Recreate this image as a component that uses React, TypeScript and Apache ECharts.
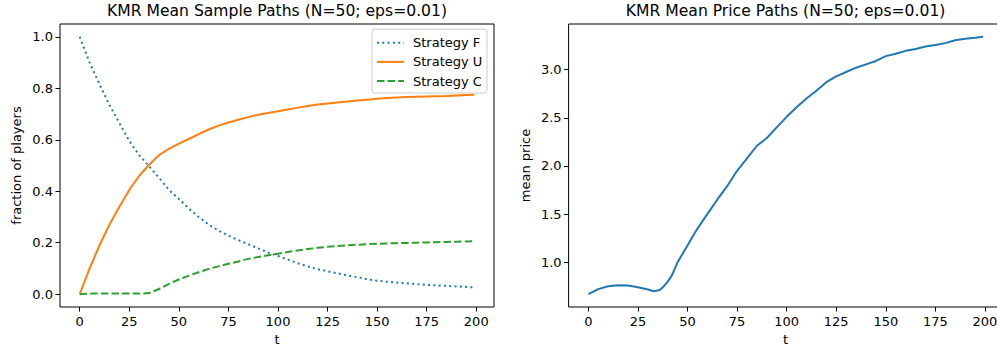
import React, { useEffect, useRef } from "react";
import * as echarts from "echarts";

const FONT = '"DejaVu Sans", sans-serif';

// time steps for the strategy shares
const tSteps = [0, 5, 10, 15, 20, 25, 30, 35, 40, 45, 50, 55, 60, 65, 70, 75, 80, 85, 90, 95, 100,
  105, 110, 115, 120, 125, 130, 135, 140, 145, 150, 155, 160, 165, 170, 175, 180, 185, 190, 195, 199];

const strategyF = [1.0, 0.9, 0.815, 0.735, 0.665, 0.595, 0.54, 0.497, 0.452, 0.405, 0.37, 0.333, 0.30, 0.27,
  0.247, 0.227, 0.21, 0.194, 0.178, 0.162, 0.148, 0.134, 0.12, 0.108, 0.097, 0.089, 0.081, 0.073, 0.066,
  0.058, 0.052, 0.048, 0.045, 0.042, 0.039, 0.036, 0.034, 0.032, 0.030, 0.028, 0.026];

const strategyU = [0, 0.1, 0.19, 0.27, 0.34, 0.405, 0.46, 0.503, 0.54, 0.565, 0.585, 0.603, 0.622, 0.64,
  0.655, 0.667, 0.678, 0.688, 0.697, 0.704, 0.711, 0.718, 0.725, 0.731, 0.737, 0.741, 0.745, 0.749, 0.753,
  0.756, 0.759, 0.762, 0.764, 0.766, 0.767, 0.768, 0.769, 0.770, 0.772, 0.774, 0.775];

const strategyC = [0, 0.002, 0.002, 0.002, 0.002, 0.002, 0.002, 0.004, 0.02, 0.04, 0.057, 0.072, 0.085, 0.098,
  0.108, 0.118, 0.127, 0.137, 0.144, 0.151, 0.157, 0.164, 0.17, 0.175, 0.18, 0.184, 0.187, 0.19, 0.192,
  0.194, 0.196, 0.197, 0.198, 0.199, 0.200, 0.201, 0.202, 0.203, 0.204, 0.205, 0.206];

// time steps for the mean price
const priceT = [0, 5, 10, 15, 20, 25, 30, 33, 36, 38, 40, 42, 45, 50, 55, 60, 65, 70, 75, 80, 85, 90, 95, 100,
  105, 110, 115, 120, 125, 130, 135, 140, 145, 150, 155, 160, 165, 170, 175, 180, 185, 190, 195, 199];

const meanPrice = [0.671, 0.722, 0.752, 0.763, 0.76, 0.742, 0.718, 0.70, 0.712, 0.75, 0.80, 0.86, 1.0, 1.175,
  1.35, 1.5, 1.65, 1.79, 1.95, 2.08, 2.21, 2.29, 2.4, 2.51, 2.61, 2.7, 2.78, 2.87, 2.93, 2.975, 3.02, 3.055,
  3.09, 3.14, 3.165, 3.195, 3.215, 3.24, 3.255, 3.275, 3.305, 3.32, 3.33, 3.34];

const xTicks = [0, 25, 50, 75, 100, 125, 150, 175, 200];
const leftYTicks = [0.0, 0.2, 0.4, 0.6, 0.8, 1.0];
const rightYTicks = [1.0, 1.5, 2.0, 2.5, 3.0];

const seriesNames = ["Strategy F", "Strategy U", "Strategy C"];
const titles = ["KMR Mean Sample Paths (N=50; eps=0.01)", "KMR Mean Price Paths (N=50; eps=0.01)"];
const yNames = ["fraction of players", "mean price"];
const xName = "t";

const BLUE = "#1f77b4";
const ORANGE = "#ff7f0e";
const GREEN = "#2ca02c";

const DOTTED = [2, 3.3];
const DASHED = [7.4, 3.2];

const pairs = (xs: number[], ys: number[]) => xs.map((x, i) => [x, ys[i]]);

export default function App() {
  const ref = useRef<HTMLDivElement>(null);

  useEffect(() => {
    if (!ref.current) return;
    const chart = echarts.init(ref.current, undefined, { renderer: "svg" });

    const tickLabel = { fontSize: 13, fontFamily: FONT, color: "#000" };
    const tickStyle = { color: "#000", width: 1 };
    const xAxisBase = (gridIndex: number) => ({
      type: "value",
      gridIndex,
      min: -9.95,
      max: 208.95,
      splitLine: { show: false },
      axisLine: { show: false, onZero: false },
      axisTick: { show: true, inside: false, length: 4.5, customValues: xTicks, lineStyle: tickStyle },
      axisLabel: { ...tickLabel, margin: 8, customValues: xTicks, formatter: (v: number) => String(v) },
    });

    // hand-drawn legend box (matplotlib style)
    const legX = 372, legY = 29, legW = 115, legH = 64;
    const rowY = [42.7, 61.9, 81.1];
    const legendLines = [
      { color: BLUE, dash: DOTTED },
      { color: ORANGE, dash: null },
      { color: GREEN, dash: DASHED },
    ];
    const legendGraphics: any[] = [
      {
        type: "rect", shape: { x: legX, y: legY, width: legW, height: legH, r: 3 },
        style: { fill: "rgba(255,255,255,0.8)", stroke: "#cccccc", lineWidth: 1 }, z: 100,
      },
    ];
    seriesNames.forEach((name, i) => {
      legendGraphics.push({
        type: "line", shape: { x1: 377, y1: rowY[i], x2: 404, y2: rowY[i] },
        style: { stroke: legendLines[i].color, lineWidth: 2, lineDash: legendLines[i].dash || undefined, lineCap: "butt" }, z: 101,
      });
      legendGraphics.push({
        type: "text", x: 413, y: rowY[i],
        style: { text: name, fontSize: 13, fontFamily: FONT, fill: "#000", align: "left", verticalAlign: "middle" }, z: 101,
      });
    });

    const option: any = {
      animation: false,
      grid: [
        { left: 60, top: 24, width: 434, height: 283, show: true, borderColor: "#000", borderWidth: 1, backgroundColor: "transparent", containLabel: false, outerBoundsMode: "none" },
        { left: 568.6, top: 24, width: 434.1, height: 283, show: true, borderColor: "#000", borderWidth: 1, backgroundColor: "transparent", containLabel: false, outerBoundsMode: "none" },
      ],
      xAxis: [xAxisBase(0), xAxisBase(1)],
      yAxis: [
        {
          type: "value",
          gridIndex: 0,
          min: -0.05,
          max: 1.05,
          splitLine: { show: false },
          axisLine: { show: false, onZero: false },
          axisTick: { show: true, inside: false, length: 4.5, customValues: leftYTicks, lineStyle: tickStyle },
          axisLabel: { ...tickLabel, margin: 7, customValues: leftYTicks, formatter: (v: number) => v.toFixed(1) },
        },
        {
          type: "value",
          gridIndex: 1,
          min: 0.5365,
          max: 3.4735,
          splitLine: { show: false },
          axisLine: { show: false, onZero: false },
          axisTick: { show: true, inside: false, length: 4.5, customValues: rightYTicks, lineStyle: tickStyle },
          axisLabel: { ...tickLabel, margin: 7, customValues: rightYTicks, formatter: (v: number) => v.toFixed(1) },
        },
      ],
      graphic: [
        { type: "text", x: 277, y: 11, style: { text: titles[0], fontSize: 15.6, fontFamily: FONT, fill: "#000", align: "center", verticalAlign: "middle" } },
        { type: "text", x: 785.6, y: 11, style: { text: titles[1], fontSize: 15.6, fontFamily: FONT, fill: "#000", align: "center", verticalAlign: "middle" } },
        { type: "text", x: 16, y: 165.5, rotation: Math.PI / 2, style: { text: yNames[0], fontSize: 13, fontFamily: FONT, fill: "#000", align: "center", verticalAlign: "middle" } },
        { type: "text", x: 525, y: 165.5, rotation: Math.PI / 2, style: { text: yNames[1], fontSize: 13, fontFamily: FONT, fill: "#000", align: "center", verticalAlign: "middle" } },
        { type: "text", x: 277, y: 339, style: { text: xName, fontSize: 13, fontFamily: FONT, fill: "#000", align: "center", verticalAlign: "middle" } },
        { type: "text", x: 785.6, y: 339, style: { text: xName, fontSize: 13, fontFamily: FONT, fill: "#000", align: "center", verticalAlign: "middle" } },
        ...legendGraphics,
      ],
      series: [
        {
          name: seriesNames[0], type: "line", xAxisIndex: 0, yAxisIndex: 0, symbol: "none", showSymbol: false,
          data: pairs(tSteps, strategyF), color: BLUE,
          lineStyle: { color: BLUE, width: 2, type: DOTTED, cap: "butt" },
        },
        {
          name: seriesNames[1], type: "line", xAxisIndex: 0, yAxisIndex: 0, symbol: "none", showSymbol: false,
          data: pairs(tSteps, strategyU), color: ORANGE,
          lineStyle: { color: ORANGE, width: 2, type: "solid" },
        },
        {
          name: seriesNames[2], type: "line", xAxisIndex: 0, yAxisIndex: 0, symbol: "none", showSymbol: false,
          data: pairs(tSteps, strategyC), color: GREEN,
          lineStyle: { color: GREEN, width: 2, type: DASHED, cap: "butt" },
        },
        {
          name: "mean price", type: "line", xAxisIndex: 1, yAxisIndex: 1, symbol: "none", showSymbol: false,
          data: pairs(priceT, meanPrice), color: BLUE,
          lineStyle: { color: BLUE, width: 2, type: "solid" },
        },
      ],
    };

    chart.setOption(option);
    return () => chart.dispose();
  }, []);

  return (
    <div
      ref={ref}
      style={{ position: "absolute", left: 0, top: 0, width: 997, height: 349, background: "#fff" }}
    />
  );
}
